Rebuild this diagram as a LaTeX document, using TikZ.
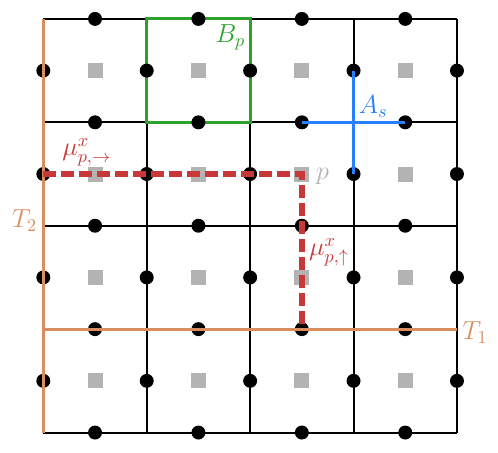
\documentclass[tikz,border=0pt]{standalone}
\usetikzlibrary{calc}
\definecolor{cgrid}{RGB}{0,0,0}
\definecolor{corange}{RGB}{218,142,95}
\definecolor{cgreen}{RGB}{46,160,44}
\definecolor{cblue}{RGB}{38,128,255}
\definecolor{cred}{RGB}{200,56,56}
\definecolor{cgray}{RGB}{179,179,179}
\tikzset{
  gridline/.style={line width=1.1pt, draw=cgrid},
  qubit/.style={circle, fill=black, inner sep=0pt, minimum size=0.27cm},
  plaq/.style={rectangle, fill=cgray, inner sep=0pt, minimum size=0.29cm},
  logical/.style={line width=1.7pt, draw=corange},
  bop/.style={line width=1.7pt, draw=cgreen},
  aop/.style={line width=1.7pt, draw=cblue},
  muop/.style={line width=3.3pt, draw=cred, dash pattern=on 6.8pt off 3.1pt},
  lbl/.style={font=\fontsize{14}{16}\selectfont, inner sep=0pt}
}
\begin{document}
\begin{tikzpicture}[x=2cm,y=2cm]
\useasboundingbox (-0.419,-0.189) rectangle (4.397,4.183);
% grid
\foreach \i in {0,...,4} {
  \draw[gridline] (\i,0) -- (\i,4);
  \draw[gridline] (0,\i) -- (4,\i);
}
% plaquette centers
\foreach \i in {0,...,3} \foreach \j in {0,...,3}
  \node[plaq] (f\i\j) at (\i+0.5,\j+0.5) {};
% B_p
\coordinate (bp1) at (1,3);
\coordinate (bp2) at (2,4);
\draw[bop] (bp1) rectangle (bp2);
% qubits
\foreach \i in {0,...,3} \foreach \j in {0,...,4}
  \node[qubit] (h\i\j) at (\i+0.5,\j) {};
\foreach \i in {0,...,4} \foreach \j in {0,...,3}
  \node[qubit] (v\i\j) at (\i,\j+0.5) {};
% logical operators
\coordinate (t2a) at (0,0);
\coordinate (t2b) at (0,4);
\coordinate (t1a) at (0,1);
\coordinate (t1b) at (4,1);
\draw[logical] (t2a) -- (t2b);
\draw[logical] (t1a) -- (t1b);
% A_s
\draw[aop] (h23.center) -- (h33.center);
\draw[aop] (v32.center) -- (v33.center);
% mu string
\coordinate (mub) at (2.5,2.5);
\draw[muop] (v02.center) -- (mub) -- (h21.center);
% labels
\node[lbl, text=cgreen] (lbp) at (1.81,3.82) {$B_p$};
\node[lbl, text=cblue] (las) at (3.19,3.15) {$A_s$};
\node[lbl, text=corange] (lt2) at (-0.182,2.05) {$T_2$};
\node[lbl, text=corange] (lt1) at (4.175,0.965) {$T_1$};
\node[lbl, text=cred] (lmur) at (0.42,2.71) {$\mu^x_{p,\rightarrow}$};
\node[lbl, text=cred] (lmuu) at (2.763,1.746) {$\mu^x_{p,\uparrow}$};
\node[lbl, text=cgray] (lp) at (2.70,2.48) {$p$};
\end{tikzpicture}
\end{document}
